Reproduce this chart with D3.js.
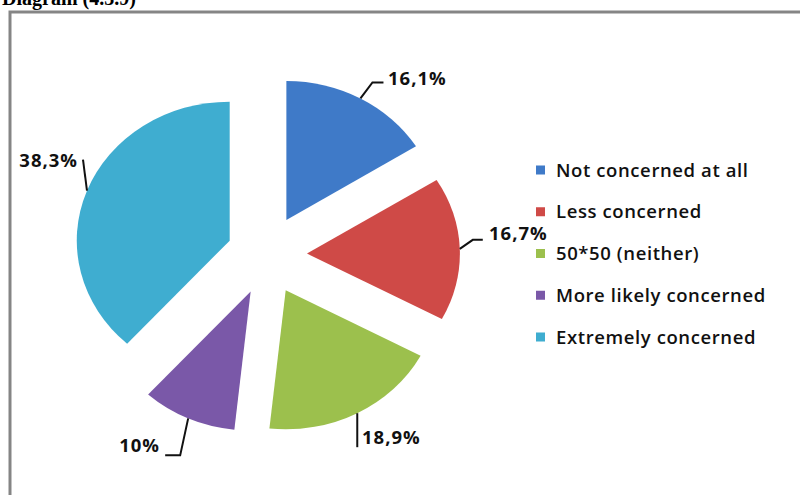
<!DOCTYPE html>
<html><head><meta charset="utf-8">
<script src="https://cdn.jsdelivr.net/npm/d3@7"></script>
<style>body{margin:0;background:#fff}svg{display:block}</style>
</head><body>
<svg id="c" width="800" height="495"></svg>
<script>
const categories = ["Not concerned at all","Less concerned","50*50 (neither)","More likely concerned","Extremely concerned"];
const values = [16.1, 16.7, 18.9, 10, 38.3];
const valueLabels = ["16,1%","16,7%","18,9%","10%","38,3%"];
const colors = ["#3f7ac8","#cf4a47","#9cc04d","#7a58a8","#3fadd0"];
const title = "Diagram (4.3.9)";

const svg = d3.select("#c");
svg.append("rect").attr("x",10).attr("y",12).attr("width",800).attr("height",500)
  .attr("fill","#fff").attr("stroke","#858585").attr("stroke-width",3);
svg.append("text").attr("x",2).attr("y",5).attr("font-family","Liberation Serif")
  .attr("font-weight","bold").attr("font-size",20).text(title);

const cx = 267, cy = 255, explode = 40, R = 139, sx = 1.1;
const pie = d3.pie().sort(null).value(d => d)(values);
const arc = d3.arc().innerRadius(0).outerRadius(R);

const slices = svg.append("g");
pie.forEach((p, i) => {
  const mid = (p.startAngle + p.endAngle) / 2;
  p.ox = cx + explode * Math.sin(mid);
  p.oy = cy - explode * Math.cos(mid);
  p.ex = p.ox + R * sx * Math.sin(mid);
  p.ey = p.oy - R * Math.cos(mid);
  slices.append("g").attr("transform", `translate(${p.ox},${p.oy}) scale(${sx},1)`)
    .append("path").attr("d", arc(p)).attr("fill", colors[i]);
});

// leader elbows / label anchors (layout)
const leaders = [
  {pts:[[12,-16],[23,-16]], tx:388, ty:85, anchor:"start"},
  {pts:[[13,-9],[23,-9]], tx:489, ty:240, anchor:"start"},
  {pts:[[0,34]], tx:362, ty:444, anchor:"start"},
  {pts:[[-8,37],[-23,37]], tx:160, ty:452, anchor:"end"},
  {pts:[[-4,-31]], tx:78, ty:167, anchor:"end"}
];
const lab = svg.append("g");
pie.forEach((p, i) => {
  const L = leaders[i];
  const pts = [[p.ex, p.ey]].concat(L.pts.map(q => [p.ex + q[0], p.ey + q[1]]));
  lab.append("path").attr("d", d3.line()(pts)).attr("fill","none")
    .attr("stroke","#111").attr("stroke-width",2);
  lab.append("text").attr("x",L.tx).attr("y",L.ty).attr("text-anchor",L.anchor)
    .attr("font-family","Open Sans").attr("font-weight",700).attr("font-size",18.5)
    .attr("letter-spacing",1).attr("fill","#111").text(valueLabels[i]);
});

const legY = d3.scalePoint().domain(categories).range([170,337]);
const leg = svg.append("g");
categories.forEach((c, i) => {
  const y = legY(c);
  leg.append("rect").attr("x",536).attr("y",y-4.5).attr("width",9).attr("height",9).attr("fill",colors[i]);
  leg.append("text").attr("x",556).attr("y",y+6.5).attr("font-family","Open Sans")
    .attr("font-weight",600).attr("font-size",18.5).attr("letter-spacing",0.6)
    .attr("fill","#111").text(c);
});
</script>
</body></html>
